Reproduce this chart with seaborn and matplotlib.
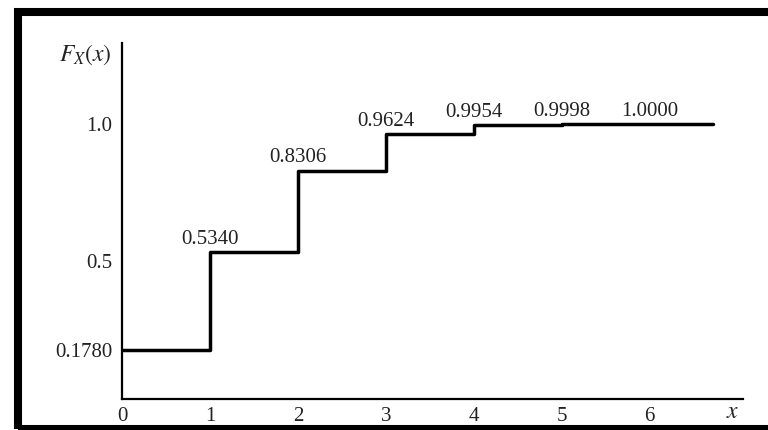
import seaborn as sns
import pandas as pd
from matplotlib import pyplot as plt
from matplotlib.patches import Rectangle

# CDF of a discrete random variable
x_values = [0, 1, 2, 3, 4, 5, 6, 6.72]
cdf_values = [0.1780, 0.5340, 0.8306, 0.9624, 0.9954, 0.9998, 1.0000, 1.0000]
step_labels = ["0.5340", "0.8306", "0.9624", "0.9954", "0.9998", "1.0000"]
x_ticks = [0, 1, 2, 3, 4, 5, 6]
y_ticks = [0.1780, 0.5, 1.0]
y_tick_labels = ["0.1780", "0.5", "1.0"]


def plot(name_plot: str = "out.png"):
    sns.set_style("white")
    plt.rcParams["font.family"] = ["Liberation Serif", "DejaVu Serif"]
    plt.rcParams["mathtext.fontset"] = "stix"

    data = pd.DataFrame({"x": x_values, "F": cdf_values})

    fig = plt.figure(figsize=(7.68, 4.30), dpi=100)
    ax = fig.add_axes([122 / 768, 31 / 430, 621 / 768, 356 / 430])

    sns.lineplot(data=data, x="x", y="F", ax=ax, color="black",
                 linewidth=2.5, drawstyle="steps-post", sort=True)

    # value labels above each step
    for k, lab in enumerate(step_labels, start=1):
        ax.annotate(lab, (x_values[k], cdf_values[k]), xytext=(0, 6),
                    textcoords="offset points", ha="center", va="baseline",
                    fontsize=15, color="#222222")

    ax.set(xlim=(0, 7.06), ylim=(0, 1.2945), xlabel="", ylabel="")
    ax.set_xticks(x_ticks)
    ax.set_yticks(y_ticks)
    ax.set_yticklabels(y_tick_labels)
    ax.tick_params(axis="x", direction="in", length=8, width=1.3,
                   pad=6, labelsize=15, labelcolor="#222222")
    ax.tick_params(axis="y", direction="in", length=11, width=1.3,
                   pad=7, labelsize=15, labelcolor="#222222")
    for side in ["top", "right"]:
        ax.spines[side].set_visible(False)
    for side in ["left", "bottom"]:
        ax.spines[side].set_linewidth(1.6)
        ax.spines[side].set_color("black")

    fig.text(112 / 768, 1 - 55 / 430, "$F_X(x)$", ha="right", va="center",
             fontsize=17, color="#222222")
    fig.text(733 / 768, 1 - 413 / 430, "$x$", ha="center", va="center",
             fontsize=17, color="#222222")

    # thick picture frame (right side runs off the image)
    fig.patches.append(Rectangle((18 / 768, 1 / 430), 800 / 768, 417 / 430,
                                 transform=fig.transFigure, fill=False,
                                 edgecolor="black", linewidth=5.8,
                                 clip_on=False))

    fig.savefig(name_plot, dpi=100)


if __name__ == "__main__":
    plot()
    print('out.png has been saved')
